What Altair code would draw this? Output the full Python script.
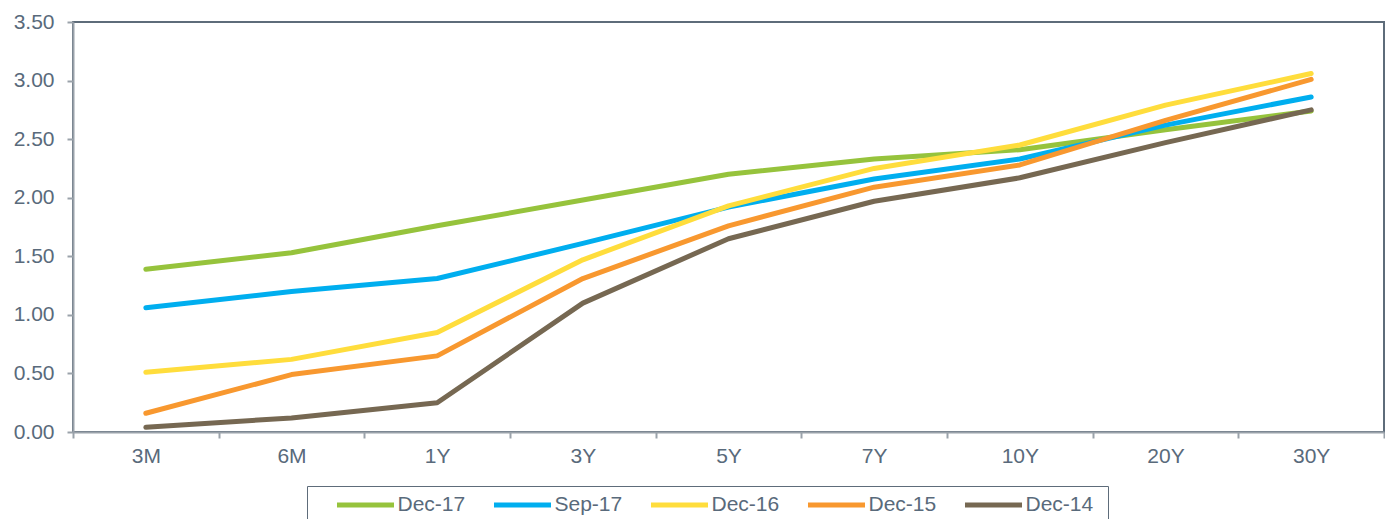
import altair as alt
import pandas as pd

tenors = ["3M", "6M", "1Y", "3Y", "5Y", "7Y", "10Y", "20Y", "30Y"]
series_names = ["Dec-17", "Sep-17", "Dec-16", "Dec-15", "Dec-14"]
colors = ["#96C33C", "#00AEEF", "#FFDD3C", "#F8982F", "#766852"]

dec17 = [1.39, 1.53, 1.76, 1.98, 2.20, 2.33, 2.41, 2.58, 2.74]
sep17 = [1.06, 1.20, 1.31, 1.61, 1.92, 2.16, 2.33, 2.62, 2.86]
dec16 = [0.51, 0.62, 0.85, 1.47, 1.93, 2.25, 2.45, 2.79, 3.06]
dec15 = [0.16, 0.49, 0.65, 1.31, 1.76, 2.09, 2.28, 2.66, 3.01]
dec14 = [0.04, 0.12, 0.25, 1.10, 1.65, 1.97, 2.17, 2.47, 2.75]

y_ticks = [0, 0.5, 1.0, 1.5, 2.0, 2.5, 3.0, 3.5]

rows = []
for name, vals in zip(series_names, [dec17, sep17, dec16, dec15, dec14]):
    for t, v in zip(tenors, vals):
        rows.append({"tenor": t, "series": name, "value": v})
df = pd.DataFrame(rows)

text_color = "#596A7B"
axis_color = "#9AA2AA"
font = "Liberation Sans"

chart = alt.Chart(df).mark_line(strokeWidth=5, strokeCap="round", strokeJoin="round").encode(
    x=alt.X(
        "tenor:N",
        sort=tenors,
        bandPosition=0.5,
        scale=alt.Scale(type="band", paddingInner=0, paddingOuter=0),
        axis=alt.Axis(
            title=None, labelAngle=0, tickBand="extent", tickSize=6,
            labelPadding=7, labelFontSize=21, labelColor=text_color, labelFont=font,
            domainColor=axis_color, tickColor=axis_color, domainWidth=2, tickWidth=2,
            grid=False, zindex=1,
        ),
    ),
    y=alt.Y(
        "value:Q",
        scale=alt.Scale(domain=[0, 3.5], nice=False),
        axis=alt.Axis(
            title=None, values=y_ticks, format=".2f", tickSize=6, labelPadding=13,
            labelFontSize=21, labelColor=text_color, labelFont=font,
            domainColor=axis_color, tickColor=axis_color, domainWidth=2, tickWidth=2,
            grid=False, zindex=1,
        ),
    ),
    color=alt.Color(
        "series:N",
        sort=series_names,
        scale=alt.Scale(domain=series_names, range=colors),
        legend=alt.Legend(
            orient="none", legendX=234, legendY=464, direction="horizontal",
            title=" ", titleOrient="right", titlePadding=10, titleFontSize=21,
            strokeColor="#5E6C7A", padding=5,
            symbolType="M-2.5,0H2.5", symbolStrokeWidth=5, symbolSize=520,
            symbolOffset=39.5,
            labelFontSize=21, labelColor=text_color, labelFont=font,
            labelOffset=18, columnPadding=3, labelLimit=200,
        ),
    ),
).properties(
    width=1311,
    height=410,
    autosize=alt.AutoSizeParams(type="none"),
    padding={"left": 65, "top": 14, "right": 1, "bottom": 100},
).configure_view(
    stroke="#5E6C7A", strokeWidth=2
)

chart.save("out.html", embed_options={"renderer": "svg", "actions": False})
